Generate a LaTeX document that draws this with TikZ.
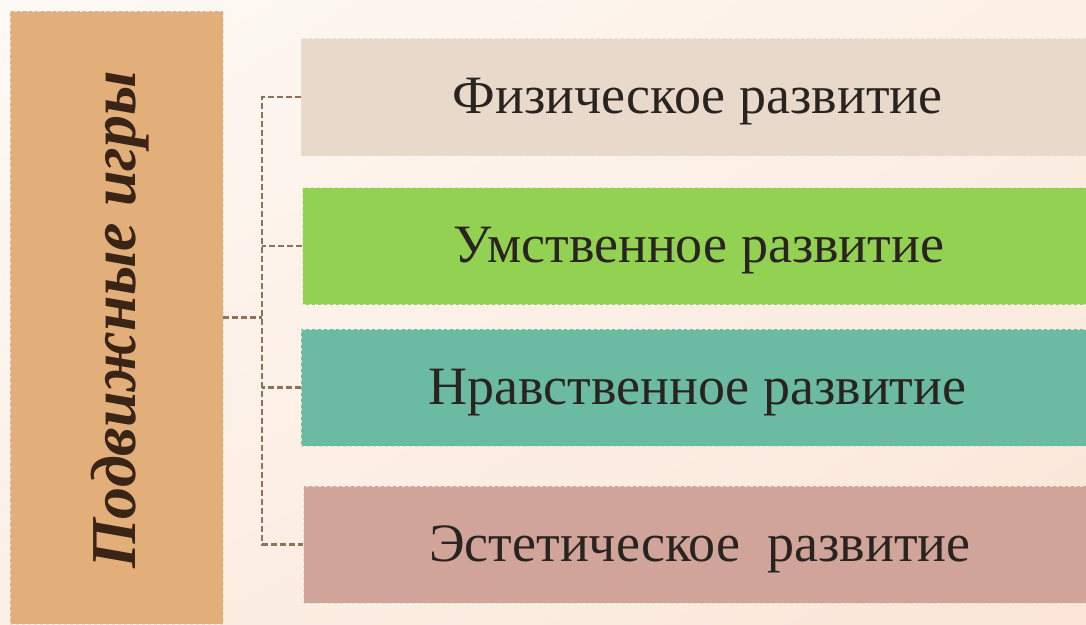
\documentclass[tikz,border=0pt]{standalone}
\usepackage{fontspec}
\setmainfont{Liberation Serif}
\usetikzlibrary{positioning,shadings}
\definecolor{bgA}{HTML}{FEFAF6}
\definecolor{bgB}{HTML}{FCEFE5}
\definecolor{bgC}{HTML}{FBE6D8}
\definecolor{leftfill}{HTML}{E2AE7A}
\definecolor{fillA}{HTML}{E8D9CA}
\definecolor{fillB}{HTML}{93D152}
\definecolor{fillC}{HTML}{6BBBA3}
\definecolor{fillD}{HTML}{D1A499}
\definecolor{conncol}{HTML}{8E7358}
\definecolor{edgecol}{HTML}{E4E0DA}
\definecolor{txtcol}{HTML}{2A2420}
\definecolor{lefttxt}{HTML}{3A2416}
\tikzset{
  catbox/.style={draw=edgecol, dashed, line width=0.8pt, minimum width=793pt, minimum height=117pt,
    inner sep=0pt, font=\fontsize{54}{60}\selectfont, text=txtcol, text height=40pt, text depth=7pt},
  mainbox/.style={draw=edgecol, dashed, line width=0.8pt, fill=leftfill, minimum width=213pt,
    minimum height=613pt, inner sep=0pt},
  conn/.style={draw=conncol, line width=2.6pt, dash pattern=on 6pt off 3pt}
}
\begin{document}
\begin{tikzpicture}[x=1pt,y=-1pt]
\useasboundingbox (0,0) rectangle (1086,624);
\shade[upper left=bgA, upper right=bgB, lower left=bgB, lower right=bgC] (0,0) rectangle (1086,624);
\node[mainbox] (main) at (116.5,317.5) {};
\node[rotate=90, text=lefttxt, font=\fontsize{64}{70}\selectfont\bfseries\itshape] (maintxt) at (120,320) {Подвижные игры};
\node[catbox, fill=fillA] (b1) at (697.5,97) {Физическое развитие};
\node[catbox, fill=fillB] (b2) at (699,246) {Умственное развитие};
\node[catbox, fill=fillC] (b3) at (697.5,387.5) {Нравственное развитие};
\node[catbox, fill=fillD] (b4) at (700,544.5) {Эстетическое\ \ развитие};
\coordinate (j) at (262,317.5);
\draw[conn] (main.east) -- (j);
\draw[conn] (b1.west) -| (j) |- (b4.west);
\draw[conn] (b2.west) -- (b2.west -| j);
\draw[conn] (b3.west) -- (b3.west -| j);
\end{tikzpicture}
\end{document}
